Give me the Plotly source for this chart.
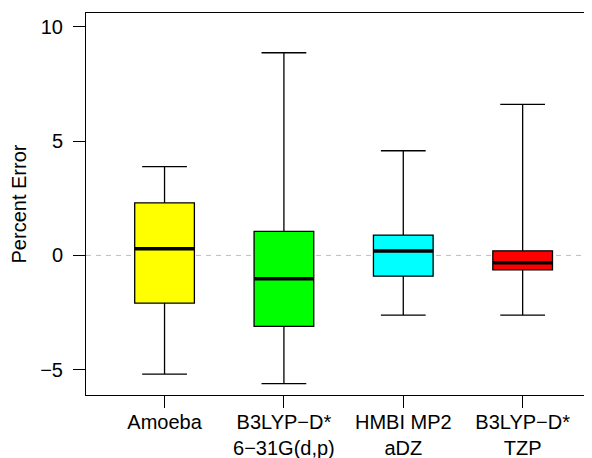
import plotly.graph_objects as go

categories = ["Amoeba", "B3LYP\u2212D*<br>6\u221231G(d,p)", "HMBI MP2<br>aDZ", "B3LYP\u2212D*<br>TZP"]
positions = [1, 2, 3, 4]
lower_whisker = [-5.20, -5.61, -2.61, -2.61]
q1 = [-2.09, -3.11, -0.91, -0.63]
median = [0.29, -1.02, 0.19, -0.32]
q3 = [2.30, 1.05, 0.89, 0.20]
upper_whisker = [3.89, 8.87, 4.58, 6.61]
colors = ["#FFFF00", "#00FF00", "#00FFFF", "#FF0000"]
y_ticks = [-5, 0, 5, 10]
y_tick_labels = ["\u22125", "0", "5", "10"]

FONT = "Liberation Sans, Arial, sans-serif"
BOX_W = 0.5

fig = go.Figure()
for i in range(len(categories)):
    fig.add_trace(go.Box(
        x=[positions[i]], q1=[q1[i]], median=[median[i]], q3=[q3[i]],
        lowerfence=[lower_whisker[i]], upperfence=[upper_whisker[i]],
        fillcolor=colors[i], line=dict(color="black", width=1.3),
        width=BOX_W, whiskerwidth=0.75, boxpoints=False, showlegend=False,
        hoverinfo="skip",
    ))
    fig.add_trace(go.Scatter(
        x=[positions[i] - BOX_W / 2, positions[i] + BOX_W / 2],
        y=[median[i], median[i]], mode="lines",
        line=dict(color="black", width=3.5), showlegend=False, hoverinfo="skip",
    ))

fig.add_shape(type="line", xref="paper", yref="y", x0=0, x1=1, y0=0, y1=0,
              line=dict(color="#BEBEBE", width=1, dash="5px,5px"), layer="below")

# the page body has an 8px margin, so the figure is 8px smaller and margins offset
fig.update_layout(
    width=584, height=450,
    margin=dict(l=78, r=0, t=5, b=63, autoexpand=False),
    plot_bgcolor="white", paper_bgcolor="white",
    font=dict(family=FONT, size=20, color="black"),
    xaxis=dict(
        range=[0.342, 4.581], tickvals=positions, ticktext=categories,
        showgrid=False, zeroline=False, showline=True, linecolor="black",
        linewidth=1, mirror=True, ticks="outside", ticklen=12, tickcolor="black",
        tickfont=dict(size=20), automargin=False, ticklabelstandoff=-3,
    ),
    yaxis=dict(
        range=[-6.11, 10.61], tickvals=y_ticks, ticktext=y_tick_labels,
        showgrid=False, zeroline=False, showline=True, linecolor="black",
        linewidth=1, ticks="outside", ticklen=12, tickcolor="black",
        ticklabelstandoff=6, automargin=False,
        title=dict(text="Percent Error", standoff=10, font=dict(size=20)),
        tickfont=dict(size=20),
    ),
)

fig.write_html("out.html")
